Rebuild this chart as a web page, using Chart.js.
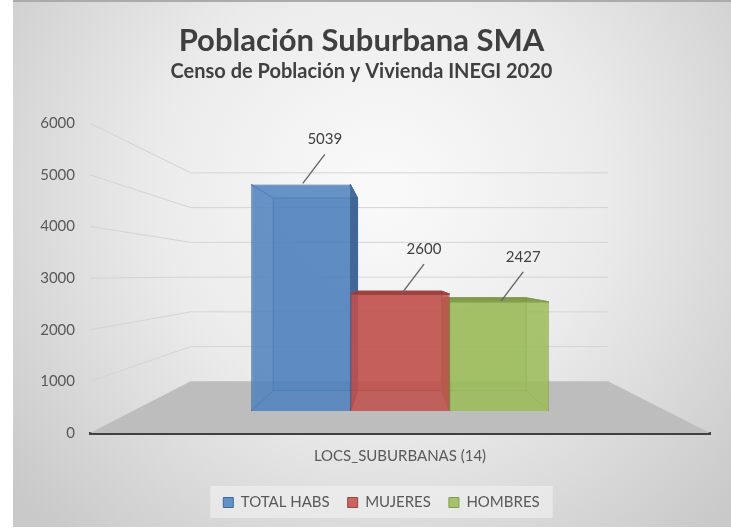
<!DOCTYPE html>
<html>
<head>
<meta charset="utf-8">
<script src="https://cdn.jsdelivr.net/npm/chart.js@4.4.1/dist/chart.umd.min.js"></script>
<style>
  html, body { margin: 0; padding: 0; background: #fff; }
  #c { display: block; }
</style>
</head>
<body>
<canvas id="c" width="731" height="530"></canvas>
<script>
// chart data
const categories = ['LOCS_SUBURBANAS (14)'];
const seriesNames = ['TOTAL HABS', 'MUJERES', 'HOMBRES'];
const totalHabs = [5039];
const mujeres = [2600];
const hombres = [2427];
const yTicks = [0, 1000, 2000, 3000, 4000, 5000, 6000];

const fills = ['rgba(79,129,189,0.86)', 'rgba(192,80,77,0.86)', 'rgba(155,187,89,0.86)'];
const edges = ['#3c6a9f', '#a0423f', '#7f9d48'];
const sides = ['rgba(52,92,142,0.9)', 'rgba(150,55,52,0.9)', 'rgba(120,148,62,0.9)'];
const backs = ['rgba(79,129,189,0.35)', 'rgba(192,80,77,0.35)', 'rgba(155,187,89,0.35)'];

Chart.defaults.font.family = 'Lato';
Chart.defaults.color = '#595959';

// perspective helpers (vanishing point + depth factors)
const K_WALL = 0.673;
const K_BAR = 0.85;
const vanish = (chart) => {
    const ca = chart.chartArea;
    return { x: (ca.left + ca.right) / 2 - 2, y: chart.scales.y.getPixelForValue(3000) - 3 };
};
const proj = (vp, x, y, k) => [vp.x + k * (x - vp.x), vp.y + k * (y - vp.y)];

const poly = (ctx, pts, fill, stroke) => {
    ctx.beginPath();
    pts.forEach((p, i) => i ? ctx.lineTo(p[0], p[1]) : ctx.moveTo(p[0], p[1]));
    ctx.closePath();
    if (fill) { ctx.fillStyle = fill; ctx.fill(); }
    if (stroke) { ctx.strokeStyle = stroke; ctx.lineWidth = 1; ctx.stroke(); }
};

// legend sits a bit right of centre in the original
const legendShift = {
    id: 'legendShift',
    afterUpdate(chart) {
        const lg = chart.legend, dx = 20, dy = -2;
        lg.left += dx; lg.right += dx;
        lg.top += dy; lg.bottom += dy;
        lg.legendHitBoxes.forEach(b => { b.left += dx; b.top += dy; });
    }
};

const backdrop = {
    id: 'backdrop',
    beforeDraw(chart) {
        const ctx = chart.ctx;
        ctx.save();
        ctx.fillStyle = '#ffffff';
        ctx.fillRect(0, 0, chart.width, chart.height);
        const g = ctx.createRadialGradient(380, 190, 20, 380, 190, 470);
        g.addColorStop(0, '#f9f9f9');
        g.addColorStop(0.45, '#ebebeb');
        g.addColorStop(1, '#c9c9c9');
        ctx.fillStyle = g;
        ctx.fillRect(13, 0, chart.width - 13, 527);
        ctx.fillStyle = '#ababab';
        ctx.fillRect(13, 0, chart.width - 13, 2);

        // legend panel
        const boxes = chart.legend.legendHitBoxes;
        if (boxes && boxes.length) {
            const l = Math.min(...boxes.map(b => b.left)) - 13;
            const r = Math.max(...boxes.map(b => b.left + b.width)) + 13;
            const t = Math.min(...boxes.map(b => b.top)) - 9;
            const b = Math.max(...boxes.map(b => b.top + b.height)) + 8;
            ctx.fillStyle = 'rgba(242,242,242,0.6)';
            ctx.fillRect(l, t, r - l, b - t);
        }
        ctx.restore();
    }
};

const walls = {
    id: 'walls',
    beforeDatasetsDraw(chart) {
        const ctx = chart.ctx, ca = chart.chartArea, y = chart.scales.y;
        const vp = vanish(chart);
        ctx.save();
        const y0 = y.getPixelForValue(0);
        poly(ctx, [[ca.left, y0], [ca.right, y0], proj(vp, ca.right, y0, K_WALL), proj(vp, ca.left, y0, K_WALL)], '#bdbdbd');

        ctx.strokeStyle = '#d4d4d4';
        ctx.lineWidth = 1;
        yTicks.forEach(v => {
            if (v === 0) return;
            const yf = y.getPixelForValue(v);
            const bl = proj(vp, ca.left, yf, K_WALL);
            const br = proj(vp, ca.right, yf, K_WALL);
            ctx.beginPath();
            ctx.moveTo(ca.left, yf);
            ctx.lineTo(bl[0], bl[1]);
            ctx.lineTo(br[0], br[1]);
            ctx.stroke();
        });

        // bar depth: back faces, sides and top
        chart.data.datasets.forEach((ds, di) => {
            chart.getDatasetMeta(di).data.forEach(bar => {
                const l = bar.x - bar.width / 2, r = bar.x + bar.width / 2;
                const t = bar.y, b = bar.base;
                const [bl, bt] = proj(vp, l, t, K_BAR);
                const [br, bb] = proj(vp, r, b, K_BAR);
                poly(ctx, [[bl, bt], [br, bt], [br, bb], [bl, bb]], backs[di], edges[di]);
                if (r < vp.x) poly(ctx, [[r, t], [br, bt], [br, bb], [r, b]], sides[di], edges[di]);
                if (l > vp.x) poly(ctx, [[l, t], [bl, bt], [bl, bb], [l, b]], sides[di], edges[di]);
                if (t > vp.y) poly(ctx, [[l, t], [r, t], [br, bt], [bl, bt]], sides[di], edges[di]);
                ctx.strokeStyle = edges[di];
                ctx.beginPath();
                [[l, t, bl, bt], [r, t, br, bt], [l, b, bl, bb], [r, b, br, bb]].forEach(s => {
                    ctx.moveTo(s[0], s[1]); ctx.lineTo(s[2], s[3]);
                });
                ctx.stroke();
            });
        });
        ctx.restore();
    }
};

const valueLabels = {
    id: 'valueLabels',
    afterDatasetsDraw(chart) {
        const ctx = chart.ctx;
        ctx.save();
        ctx.font = '15px Lato';
        ctx.textAlign = 'center';
        ctx.textBaseline = 'middle';
        chart.data.datasets.forEach((ds, di) => {
            chart.getDatasetMeta(di).data.forEach((bar, i) => {
                const x0 = bar.x + 2, y0 = bar.y - 1;
                const x1 = x0 + 22, y1 = y0 - 29;
                ctx.strokeStyle = '#666666';
                ctx.lineWidth = 1.4;
                ctx.beginPath();
                ctx.moveTo(x0, y0);
                ctx.lineTo(x1, y1);
                ctx.stroke();
                ctx.fillStyle = '#404040';
                ctx.fillText(String(ds.data[i]), x1, y1 - 15);
            });
        });
        ctx.restore();
    }
};

const datasets = [totalHabs, mujeres, hombres].map((d, i) => ({
    label: seriesNames[i],
    data: d,
    backgroundColor: fills[i],
    borderColor: edges[i],
    borderWidth: 1,
    yAxisID: 'yBar'
}));

new Chart(document.getElementById('c'), {
    type: 'bar',
    data: { labels: categories, datasets },
    options: {
        responsive: false,
        animation: false,
        layout: { padding: { left: 13, right: 21, top: 0, bottom: 8 } },
        datasets: { bar: { categoryPercentage: 0.48, barPercentage: 1 } },
        plugins: {
            title: {
                display: true,
                text: 'Población Suburbana SMA',
                color: '#3f3f3f',
                font: { family: 'Lato', size: 31, weight: 'bold' },
                padding: { top: 22, bottom: 0 }
            },
            subtitle: {
                display: true,
                text: 'Censo de Población y Vivienda INEGI 2020',
                color: '#404040',
                font: { family: 'Lato', size: 20, weight: 'bold' },
                padding: { top: 0, bottom: 40 }
            },
            legend: {
                position: 'bottom',
                labels: {
                    boxWidth: 10,
                    boxHeight: 10,
                    padding: 18,
                    color: '#595959',
                    font: { family: 'Lato', size: 15 }
                }
            },
            tooltip: { enabled: false }
        },
        scales: {
            x: {
                grid: { display: false, drawTicks: false },
                border: { display: true, color: '#404040', width: 3 },
                ticks: { color: '#595959', font: { size: 15 }, padding: 14 }
            },
            y: {
                min: 0,
                max: 6000,
                ticks: {
                    stepSize: 1000, padding: 15, color: '#595959', font: { size: 15 },
                    callback: v => String(v)
                },
                grid: { display: false, drawTicks: false },
                border: { display: false },
                afterFit(s) { s.width = 77; }
            },
            yBar: { display: false, min: -490, max: 6400 }
        }
    },
    plugins: [legendShift, backdrop, walls, valueLabels]
});
</script>
</body>
</html>
